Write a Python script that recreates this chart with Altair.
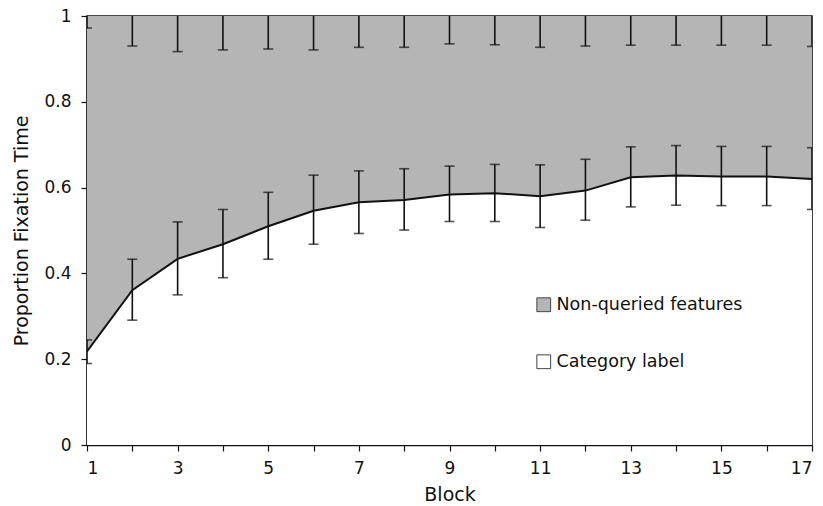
import altair as alt
import pandas as pd

blocks = list(range(1, 18))
# proportion of fixation time on the category label (lower line)
label_mean = [0.218, 0.361, 0.434, 0.468, 0.510, 0.546, 0.566, 0.571, 0.584,
              0.587, 0.580, 0.593, 0.624, 0.628, 0.626, 0.626, 0.620]
label_hi = [0.245, 0.433, 0.520, 0.549, 0.589, 0.629, 0.639, 0.644, 0.650,
            0.654, 0.653, 0.666, 0.695, 0.698, 0.696, 0.696, 0.693]
label_lo = [0.190, 0.291, 0.350, 0.390, 0.433, 0.468, 0.493, 0.501, 0.521,
            0.521, 0.507, 0.524, 0.555, 0.559, 0.558, 0.558, 0.549]
# lower end of the error bars for the non-queried features (top of the stack)
feat_lo = [0.972, 0.930, 0.917, 0.921, 0.923, 0.921, 0.927, 0.927, 0.935,
           0.933, 0.927, 0.930, 0.932, 0.932, 0.932, 0.932, 0.929]
feat_hi = [1.0] * 17
series = ["Non-queried features", "Category label"]
fills = ["#b5b5b5", "#ffffff"]

rows = []
for i, b in enumerate(blocks):
    rows.append({"block": b, "series": series[0], "lo": label_mean[i], "hi": 1.0})
    rows.append({"block": b, "series": series[1], "lo": 0.0, "hi": label_mean[i]})
areas_df = pd.DataFrame(rows)

line_df = pd.DataFrame({"block": blocks, "mean": label_mean})
err_df = pd.DataFrame({
    "block": blocks + blocks,
    "lo": label_lo + feat_lo,
    "hi": label_hi + feat_hi,
})
cap_df = pd.DataFrame({
    "block": blocks * 3,
    "v": label_lo + label_hi + feat_lo,
})

FONT = "DejaVu Sans"
x_scale = alt.Scale(domain=[1, 17], nice=False, zero=False)
y_scale = alt.Scale(domain=[0, 1], nice=False)

x_axis = alt.Axis(
    title="Block", values=blocks,
    labelExpr="datum.value % 2 == 1 ? datum.label : ''",
    tickSize=6, labelPadding=9, titlePadding=9, grid=False,
)
y_axis = alt.Axis(
    title="Proportion Fixation Time", values=[0, 0.2, 0.4, 0.6, 0.8, 1],
    format="~g", tickSize=6, labelPadding=10, titlePadding=12, grid=False,
)

areas = alt.Chart(areas_df).mark_area(opacity=1, clip=True).encode(
    x=alt.X("block:Q", scale=x_scale, axis=x_axis),
    y=alt.Y("lo:Q", scale=y_scale, axis=y_axis),
    y2="hi:Q",
    color=alt.Color(
        "series:N",
        scale=alt.Scale(domain=series, range=fills),
        legend=alt.Legend(
            title=None, orient="none", legendX=448, legendY=280,
            symbolType="square", symbolSize=190, symbolStrokeColor="#444",
            symbolStrokeWidth=1, labelFontSize=17.5, labelFont=FONT,
            labelColor="#111", rowPadding=38, labelOffset=4, labelLimit=400,
        ),
    ),
    detail="series:N",
)

line = alt.Chart(line_df).mark_line(color="#111", strokeWidth=2, clip=True).encode(
    x=alt.X("block:Q", scale=x_scale),
    y=alt.Y("mean:Q", scale=y_scale),
)

rules = alt.Chart(err_df).mark_rule(color="#111", strokeWidth=1.6, clip=True).encode(
    x=alt.X("block:Q", scale=x_scale),
    y=alt.Y("lo:Q", scale=y_scale),
    y2="hi:Q",
)

caps = alt.Chart(cap_df).mark_tick(
    color="#111", orient="horizontal", size=10, thickness=1.6, clip=True
).encode(
    x=alt.X("block:Q", scale=x_scale),
    y=alt.Y("v:Q", scale=y_scale),
)

chart = alt.layer(areas, line, rules, caps).properties(
    width=725, height=429,
    autosize=alt.AutoSizeParams(type="none"),
    padding={"left": 87, "top": 16, "right": 11, "bottom": 61},
).configure_view(
    stroke="#111", strokeWidth=1.6,
).configure_axis(
    domainColor="#111", domainWidth=1.6, tickColor="#111", tickWidth=1.2,
    labelFont=FONT, labelFontSize=17, labelColor="#111",
    titleFont=FONT, titleFontSize=19, titleFontWeight="normal", titleColor="#111",
)

chart.save("out.html", embed_options={"renderer": "svg", "actions": False})
